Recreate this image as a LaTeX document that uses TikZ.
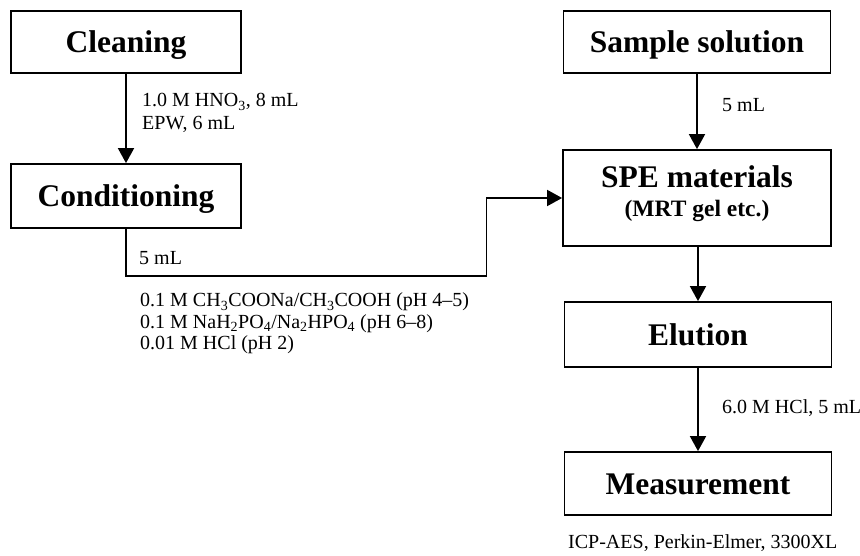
\documentclass[tikz,border=0pt]{standalone}
\usepackage{fontspec}
\setmainfont{Liberation Serif}
\usetikzlibrary{arrows.meta}
\begin{document}
\begin{tikzpicture}[x=1pt,y=-1pt,
  box/.style={draw, line width=1.8pt, inner sep=0pt, text height=21pt, text depth=0pt,
    font=\fontsize{31.5}{36}\selectfont\bfseries, align=center},
  emptybox/.style={draw, line width=1.8pt, inner sep=0pt},
  lab/.style={anchor=base west, inner sep=0pt, font=\fontsize{20}{22}\selectfont},
  conn/.style={line width=1.8pt, -{Triangle[width=16pt,length=15pt]}}]
\useasboundingbox (0,0) rectangle (860,556);

% boxes
\node[box, minimum width=230pt, minimum height=62pt] (clean) at (126,42) {Cleaning};
\node[box, minimum width=230pt, minimum height=64pt] (cond) at (126,196) {Conditioning};
\node[box, minimum width=267pt, minimum height=62pt] (sample) at (697,42) {Sample solution};
\node[emptybox, minimum width=268pt, minimum height=96pt] (spe) at (697,198) {};
\node[anchor=base, inner sep=0pt, font=\fontsize{31.5}{36}\selectfont\bfseries] (spet1) at (697,188) {SPE materials};
\node[anchor=base, inner sep=0pt, font=\fontsize{23.5}{28}\selectfont\bfseries] (spet2) at (697,217) {(MRT gel etc.)};
\node[box, minimum width=267pt, minimum height=65pt] (elu) at (698,334.5) {Elution};
\node[box, minimum width=267pt, minimum height=63pt] (meas) at (698,483.5) {Measurement};

% connectors
\draw[conn] (clean.south) -- (cond.north);
\draw[conn] (sample.south) -- (spe.north);
\draw[conn] (spe.south -| elu.north) -- (elu.north);
\draw[conn] (elu.south) -- (meas.north);
\coordinate (bend) at (486.5,276);
\draw[conn] (cond.south) |- (bend) |- (spe.west);

% labels
\node[lab] (l1) at (142,107) {1.0 M HNO\textsubscript{3}, 8 mL};
\node[lab] (l2) at (142,130) {EPW, 6 mL};
\node[lab] (l3) at (722,112) {5 mL};
\node[lab] (l4) at (139,265) {5 mL};
\node[lab] (l5) at (140,307) {0.1 M CH\textsubscript{3}COONa/CH\textsubscript{3}COOH (pH 4–5)};
\node[lab] (l6) at (140,328) {0.1 M NaH\textsubscript{2}PO\textsubscript{4}/Na\textsubscript{2}HPO\textsubscript{4} (pH 6–8)};
\node[lab] (l7) at (140,349) {0.01 M HCl (pH 2)};
\node[lab] (l8) at (722,413) {6.0 M HCl, 5 mL};
\node[lab] (l9) at (568,548) {ICP-AES, Perkin-Elmer, 3300XL};
\end{tikzpicture}
\end{document}
